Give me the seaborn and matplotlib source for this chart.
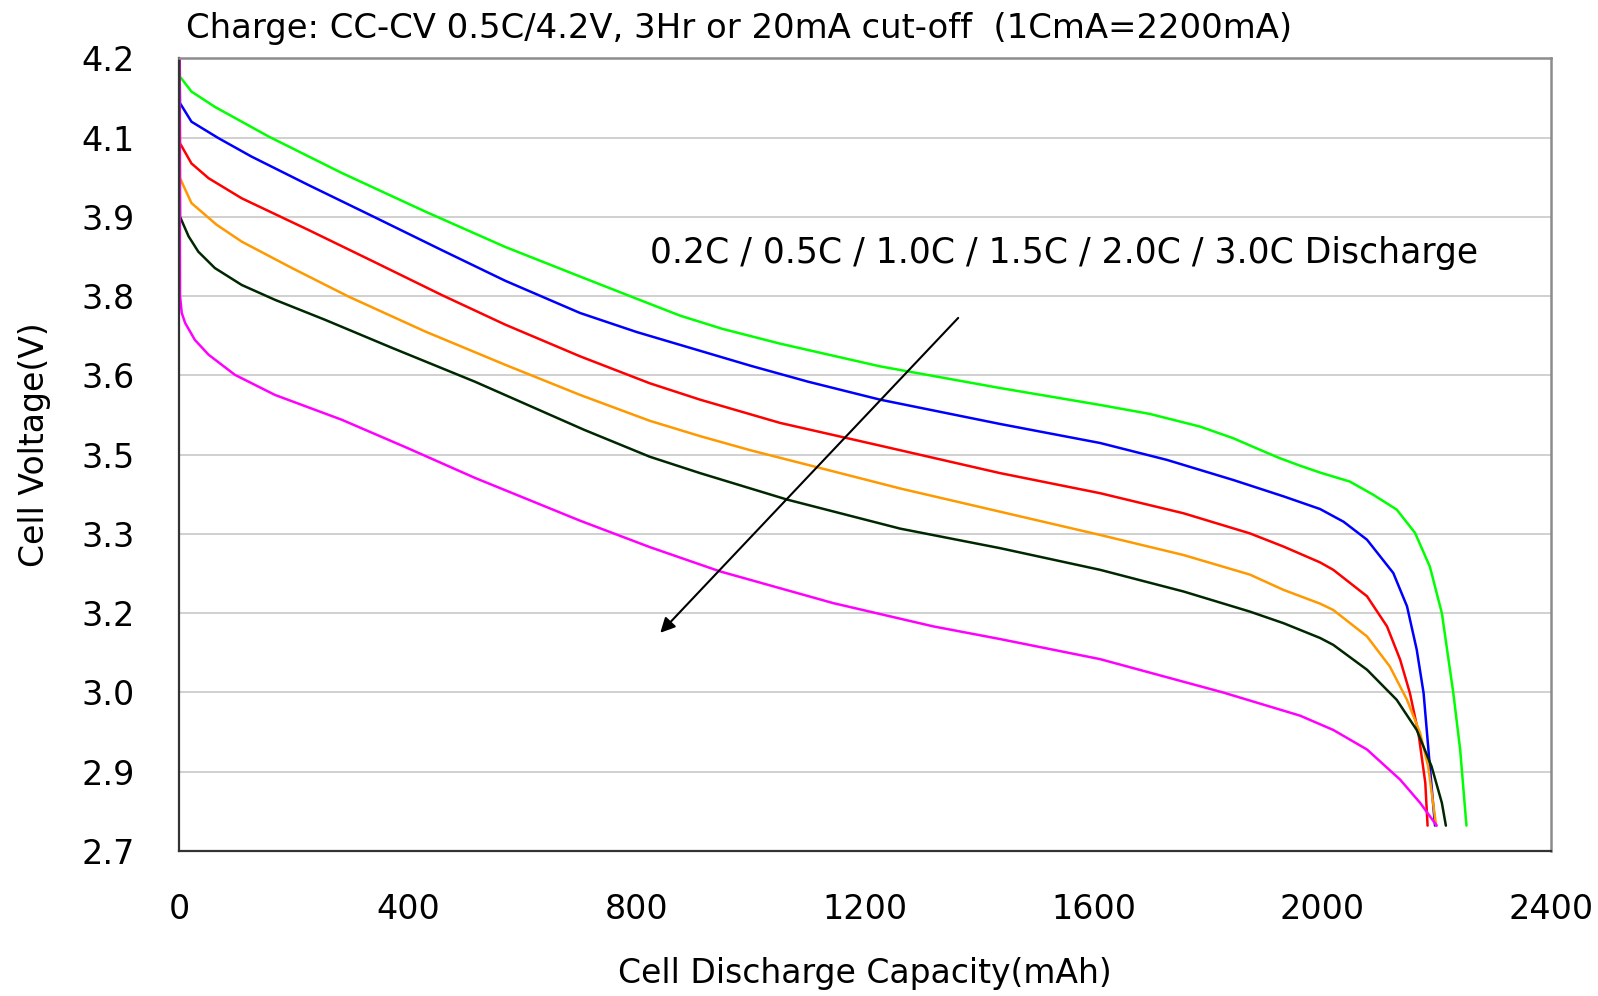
import numpy as np
import pandas as pd
import matplotlib
matplotlib.use("Agg")
import matplotlib.pyplot as plt
import seaborn as sns

# ---------------- data ----------------
rates = ["0.2C", "0.5C", "1.0C", "1.5C", "2.0C", "3.0C"]
colors = ["#00ff00", "#0000ff", "#ff0000", "#ff9900", "#002800", "#ff00ff"]

cap_02 = [0, 1, 21, 62, 156, 284, 430, 570, 701, 800, 876, 950, 1051, 1226, 1436, 1611, 1698,
          1786, 1844, 1891, 1926, 1961, 1996, 2048, 2089, 2130, 2162, 2188, 2209, 2229, 2241, 2252]
v_02 = [4.20, 4.165, 4.137, 4.108, 4.052, 3.983, 3.910, 3.843, 3.787, 3.745, 3.713, 3.688, 3.660,
        3.617, 3.576, 3.544, 3.527, 3.503, 3.481, 3.459, 3.443, 3.429, 3.416, 3.399, 3.374, 3.346,
        3.302, 3.238, 3.150, 2.999, 2.892, 2.748]

cap_05 = [0, 1, 21, 68, 126, 226, 342, 459, 570, 701, 800, 900, 1000, 1100, 1226, 1436, 1611,
          1728, 1844, 1932, 1996, 2037, 2078, 2124, 2148, 2165, 2177, 2188, 2197]
v_05 = [4.20, 4.115, 4.080, 4.049, 4.014, 3.960, 3.899, 3.837, 3.779, 3.718, 3.682, 3.650, 3.618,
        3.588, 3.554, 3.508, 3.472, 3.440, 3.402, 3.371, 3.347, 3.323, 3.289, 3.226, 3.163, 3.081,
        2.999, 2.860, 2.748]

cap_10 = [0, 1, 21, 51, 109, 226, 342, 459, 570, 701, 823, 911, 1051, 1165, 1226, 1436, 1611,
          1757, 1873, 1932, 1996, 2019, 2078, 2113, 2136, 2153, 2168, 2180, 2184]
v_10 = [4.20, 4.039, 4.001, 3.973, 3.935, 3.875, 3.814, 3.752, 3.696, 3.636, 3.585, 3.554, 3.510,
        3.482, 3.467, 3.415, 3.377, 3.339, 3.301, 3.276, 3.246, 3.232, 3.182, 3.125, 3.062, 2.999,
        2.923, 2.829, 2.748]

cap_15 = [0, 1, 21, 65, 109, 197, 296, 430, 570, 701, 823, 911, 1000, 1109, 1261, 1436, 1611,
          1757, 1873, 1932, 1996, 2019, 2078, 2118, 2148, 2171, 2185, 2199]
v_15 = [4.20, 3.973, 3.926, 3.885, 3.853, 3.803, 3.749, 3.683, 3.620, 3.563, 3.514, 3.485, 3.458,
        3.428, 3.386, 3.342, 3.298, 3.260, 3.223, 3.194, 3.168, 3.156, 3.106, 3.049, 2.986, 2.923,
        2.860, 2.748]

cap_20 = [0, 1, 16, 33, 62, 109, 167, 255, 372, 517, 708, 823, 911, 1063, 1261, 1436, 1611, 1757,
          1873, 1932, 1996, 2019, 2078, 2130, 2165, 2191, 2209, 2216]
v_20 = [4.20, 3.900, 3.863, 3.834, 3.803, 3.771, 3.743, 3.705, 3.652, 3.588, 3.497, 3.446, 3.415,
        3.365, 3.310, 3.273, 3.232, 3.191, 3.153, 3.131, 3.103, 3.090, 3.043, 2.986, 2.929, 2.860,
        2.791, 2.748]

cap_30 = [0, 1, 4, 10, 27, 51, 97, 167, 284, 400, 517, 701, 823, 946, 1144, 1319, 1436, 1611,
          1826, 1961, 2019, 2078, 2136, 2171, 2200]
v_30 = [4.20, 3.750, 3.718, 3.699, 3.667, 3.639, 3.601, 3.563, 3.516, 3.462, 3.406, 3.325, 3.275,
        3.229, 3.169, 3.125, 3.101, 3.063, 3.000, 2.956, 2.929, 2.892, 2.835, 2.791, 2.748]

caps = [cap_02, cap_05, cap_10, cap_15, cap_20, cap_30]
volts = [v_02, v_05, v_10, v_15, v_20, v_30]

xticks = [0, 400, 800, 1200, 1600, 2000, 2400]
yticks = [2.7, 2.85, 3.0, 3.15, 3.3, 3.45, 3.6, 3.75, 3.9, 4.05, 4.2]
ytick_labels = ["2.7", "2.9", "3.0", "3.2", "3.3", "3.5", "3.6", "3.8", "3.9", "4.1", "4.2"]

title = "Charge: CC-CV 0.5C/4.2V, 3Hr or 20mA cut-off  (1CmA=2200mA)"
note = "0.2C / 0.5C / 1.0C / 1.5C / 2.0C / 3.0C Discharge"

# ---------------- build table ----------------
frames = []
for r, c, v in zip(rates, caps, volts):
    frames.append(pd.DataFrame({"cap": c, "volt": v, "rate": r}))
df = pd.concat(frames, ignore_index=True)

# ---------------- plot ----------------
sns.set_theme(style="white")
plt.rcParams["font.family"] = ["DejaVu Sans"]

fig = plt.figure(figsize=(15.98, 9.96), dpi=100)
ax = fig.add_axes([0.1123, 0.1456, 0.8583, 0.7959])

sns.lineplot(data=df, x="cap", y="volt", hue="rate", palette=dict(zip(rates, colors)),
             sort=False, estimator=None, units="rate", linewidth=1.8, legend=False, ax=ax)

ax.set_xlim(0, 2400)
ax.set_ylim(2.7, 4.2)
ax.set_xticks(xticks)
ax.set_xticklabels([str(t) for t in xticks])
ax.set_yticks(yticks)
ax.set_yticklabels(ytick_labels)

ax.grid(axis="y", color="#c4c4c4", linewidth=1.1)
ax.grid(axis="x", visible=False)
ax.set_axisbelow(True)

ax.tick_params(axis="both", direction="in", length=9, width=1.0, color="#333333",
               labelsize=24, labelcolor="black")
ax.tick_params(axis="y", pad=32)
ax.tick_params(axis="x", pad=30)

for s in ["left", "bottom"]:
    ax.spines[s].set_color("#333333")
    ax.spines[s].set_linewidth(1.6)
for s in ["top", "right"]:
    ax.spines[s].set_color("#8c8c8c")
    ax.spines[s].set_linewidth(1.8)

ax.set_xlabel("Cell Discharge Capacity(mAh)", fontsize=23.8, color="black")
ax.set_ylabel("Cell Voltage(V)", fontsize=23.8, color="black")
ax.xaxis.label.set_va("center")
ax.yaxis.label.set_va("center")
ax.xaxis.set_label_coords(0.5, -0.154)
ax.yaxis.set_label_coords(-0.106, 0.512)

fig.text(0.1167, 0.971, title, fontsize=24.4, ha="left", va="center", color="black")

ax.text(823, 3.832, note, fontsize=24.9, ha="left", va="center", color="black")
ax.annotate("", xy=(838, 3.109), xytext=(1366, 3.7125),
            arrowprops=dict(arrowstyle="-|>", color="black", lw=1.5, mutation_scale=22))

fig.savefig("out.png", dpi=100)
